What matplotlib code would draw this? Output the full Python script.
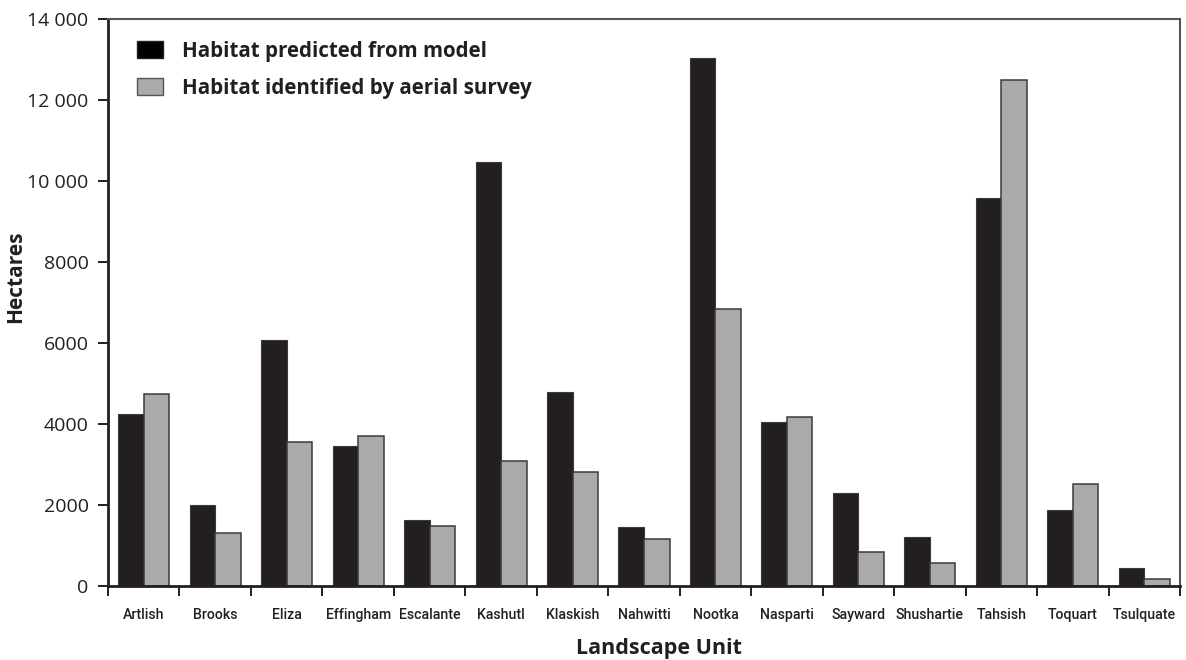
import matplotlib
matplotlib.use("Agg")
import matplotlib.pyplot as plt
from matplotlib.patches import Patch
from matplotlib.ticker import FuncFormatter, FixedLocator
import numpy as np

units = ["Artlish", "Brooks", "Eliza", "Effingham", "Escalante", "Kashutl", "Klaskish",
         "Nahwitti", "Nootka", "Nasparti", "Sayward", "Shushartie", "Tahsish", "Toquart",
         "Tsulquate"]
predicted = [4244, 2012, 6076, 3466, 1626, 10475, 4786, 1446, 13030, 4047, 2298, 1214, 9581, 1865, 436]
surveyed = [4729, 1298, 3547, 3712, 1470, 3079, 2815, 1150, 6830, 4170, 845, 559, 12495, 2530, 180]
series_labels = ["Habitat predicted from model", "Habitat identified by aerial survey"]
y_ticks = [0, 2000, 4000, 6000, 8000, 10000, 12000, 14000]

TXT = "#231f20"
BLACK = "#231f20"
GREY = "#aaaaaa"

plt.rcParams['font.family'] = ['Open Sans', 'DejaVu Sans']

fig = plt.figure(figsize=(11.86, 6.6), dpi=100)
ax = fig.add_axes([108/1186, 1-586/660, (1180-108)/1186, (586-19)/660])

n = len(units)
centers = np.arange(n) + 0.5
w = 0.357
ax.bar(centers - w/2, predicted, width=w, color=BLACK, edgecolor="#3a3a3a", linewidth=0.8, zorder=2)
ax.bar(centers + w/2, surveyed, width=w, color=GREY, edgecolor="#3a3a3a", linewidth=1.1, zorder=2)

ax.set_xlim(0, n)
ax.set_ylim(0, 14000)

ax.set_yticks(y_ticks)
ax.yaxis.set_major_formatter(FuncFormatter(
    lambda v, p: ("{:,}".format(int(v)).replace(",", " ") if v >= 10000 else str(int(v)))))
ax.tick_params(axis='y', direction='out', length=7, width=1.4, color=TXT,
               labelsize=14, labelcolor=TXT, pad=7)

ax.set_xticks(centers)
ax.set_xticklabels(units, family=['Roboto', 'DejaVu Sans'], fontsize=10.2,
                   fontweight='medium', color=TXT)
ax.xaxis.set_minor_locator(FixedLocator(np.arange(n + 1)))
ax.tick_params(axis='x', which='major', length=0, pad=16)
ax.tick_params(axis='x', which='minor', direction='out', length=7, width=1.4, color=TXT)

for s in ['left', 'bottom']:
    ax.spines[s].set_linewidth(2.0)
    ax.spines[s].set_color(TXT)
for s in ['top', 'right']:
    ax.spines[s].set_linewidth(1.5)
    ax.spines[s].set_color("#555555")

ax.set_ylabel("Hectares", fontsize=15, fontweight='bold', color=TXT)
ax.yaxis.set_label_coords(-0.076, 0.545)
ax.set_xlabel("Landscape Unit", fontsize=15.5, fontweight='bold', color=TXT)
ax.xaxis.set_label_coords(0.514, -0.092)

handles = [Patch(facecolor="#000000", edgecolor="#222222", linewidth=1.0),
           Patch(facecolor=GREY, edgecolor="#555555", linewidth=1.0)]
leg = ax.legend(handles, series_labels, loc='upper left', bbox_to_anchor=(0.027, 0.962),
                frameon=False, borderaxespad=0, borderpad=0,
                handlelength=1.25, handleheight=0.95, handletextpad=0.95, labelspacing=0.78,
                prop={'family': ['Open Sans', 'DejaVu Sans'], 'weight': 'bold', 'size': 14.8})
for t in leg.get_texts():
    t.set_color(TXT)

fig.savefig("out.png", dpi=100)
